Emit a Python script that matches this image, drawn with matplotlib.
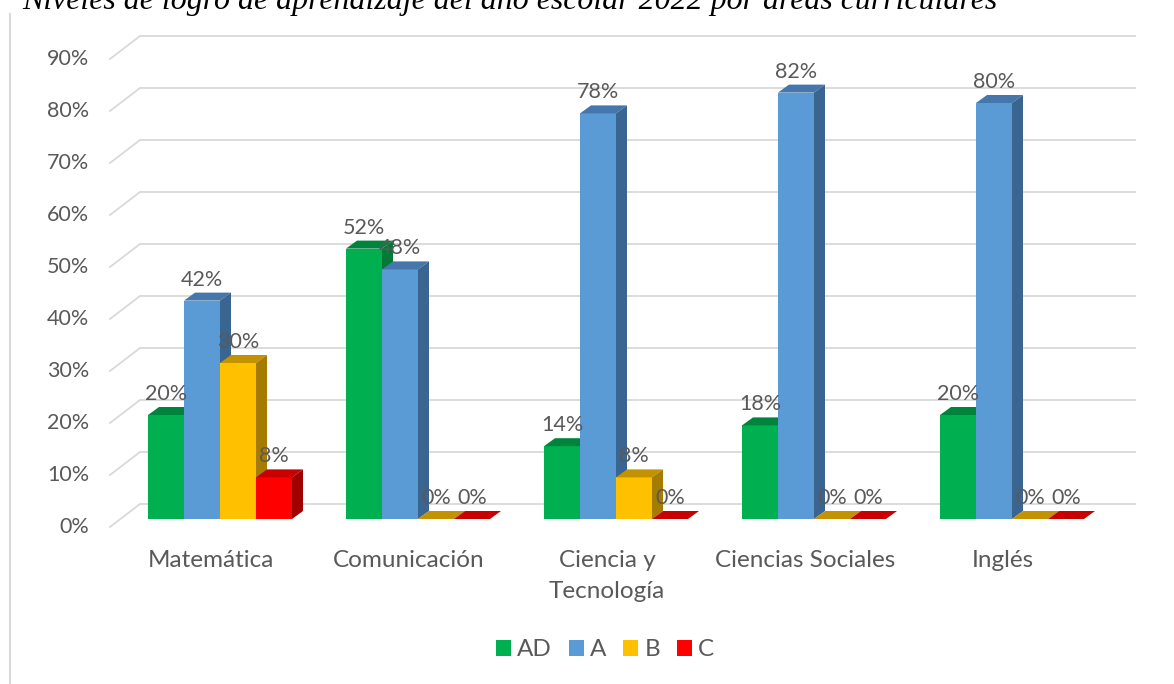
import matplotlib
matplotlib.use("Agg")
import matplotlib.pyplot as plt
from matplotlib.patches import Polygon
from matplotlib.lines import Line2D

# ---------------- data ----------------
categories = ["Matemática", "Comunicación", "Ciencia y\nTecnología", "Ciencias Sociales", "Inglés"]
series_names = ["AD", "A", "B", "C"]
vals_AD = [20, 52, 14, 18, 20]
vals_A = [42, 48, 78, 82, 80]
vals_B = [30, 0, 8, 0, 0]
vals_C = [8, 0, 0, 0, 0]
y_ticks = [0, 10, 20, 30, 40, 50, 60, 70, 80, 90]
y_tick_labels = [f"{t}%" for t in y_ticks]
title = "Niveles de logro de aprendizaje del año escolar 2022 por áreas curriculares"

series_vals = [vals_AD, vals_A, vals_B, vals_C]
front_cols = ["#00B050", "#5B9BD5", "#FFC000", "#FF0000"]
top_cols = ["#00843C", "#4677AC", "#C39200", "#C80000"]
side_cols = ["#007A36", "#3A6590", "#A57C00", "#A00000"]
text_col = "#595959"
grid_col = "#D9D9D9"

plt.rcParams["font.family"] = ["Lato", "DejaVu Sans"]

# ---------------- layout (pixels) ----------------
W, H = 1174, 684
X0, PXX = 220.0, 198.0      # pixel of first category centre, px per category
Y0, PXY = 519.0, 5.2        # pixel of 0 %, px per 1 %

fig = plt.figure(figsize=(W / 100, H / 100), dpi=100)
ax = fig.add_axes([0, 0, 1, 1])
ax.set_xlim(-X0 / PXX, (W - X0) / PXX)
ax.set_ylim((Y0 - H) / PXY, Y0 / PXY)
ax.axis("off")


def dx(px):
    return px / PXX


def dy(px):
    return px / PXY


def xpix(px):
    return (px - X0) / PXX


bar_w = dx(36)
depth_x, depth_y = dx(11), dy(8)
fs_num = 15.5
fs_word = 17.5

# gridlines (back wall + side wall)
for t, tl in zip(y_ticks, y_tick_labels):
    ax.plot([xpix(140), xpix(1136)], [t + dy(15), t + dy(15)], color=grid_col, lw=1.3, zorder=1,
            solid_capstyle="butt")
    ax.plot([xpix(110), xpix(140)], [t - dy(8), t + dy(15)], color=grid_col, lw=1.3, zorder=1)
    ax.text(xpix(89), t - dy(8), tl, ha="right", va="center", fontsize=fs_num, color=text_col)

# bars
containers = []
n_cat = len(categories)
for k, vals in enumerate(series_vals):
    xs = [i + (k - 1.5) * bar_w for i in range(n_cat)]
    cont = ax.bar(xs, vals, width=bar_w, color=front_cols[k], linewidth=0, label=series_names[k])
    containers.append(cont)
    for i, (x, v) in enumerate(zip(xs, vals)):
        z = 2 + (i * 4 + k) * 0.01
        cont.patches[i].set_zorder(z)
        xl, xr = x - bar_w / 2, x + bar_w / 2
        top = Polygon([(xl, v), (xr, v), (xr + depth_x, v + depth_y), (xl + depth_x, v + depth_y)],
                      closed=True, facecolor=top_cols[k], edgecolor="none", zorder=z + 0.002)
        ax.add_patch(top)
        if v > 0:
            side = Polygon([(xr, 0), (xr, v), (xr + depth_x, v + depth_y), (xr + depth_x, depth_y)],
                           closed=True, facecolor=side_cols[k], edgecolor="none", zorder=z + 0.004)
            ax.add_patch(side)
        ax.text(x, v + dy(15), f"{v}%", ha="center", va="baseline", fontsize=fs_num,
                color=text_col, zorder=10)

# category labels
for i, lab in enumerate(categories):
    for j, line in enumerate(lab.split("\n")):
        ax.text(i - dx(9), -dy(567 - Y0) - dy(31) * j, line, ha="center", va="baseline",
                fontsize=fs_word, color=text_col)

# legend
leg = ax.legend(handles=containers, labels=series_names, ncol=4, frameon=False,
                loc="center", bbox_to_anchor=(605 / W, 1 - 650 / H), bbox_transform=fig.transFigure,
                fontsize=fs_word, handlelength=0.62, handleheight=0.62, handletextpad=0.25,
                columnspacing=0.7, labelcolor=text_col)

# chart area border (left)
fig.add_artist(Line2D([10 / W, 10 / W], [0, 1 - 14 / H], color=grid_col, lw=1.5))

# title (cut at top as in the reference)
tt = fig.text(22 / W, 1 - 9 / H, title, ha="left", va="baseline", fontsize=20,
              family=["Liberation Serif", "DejaVu Serif"], style="italic", color="black")
fig.canvas.draw()
wpx = tt.get_window_extent().width
tt.set_fontsize(20 * 975 / wpx)

fig.savefig("out.png", dpi=100)
